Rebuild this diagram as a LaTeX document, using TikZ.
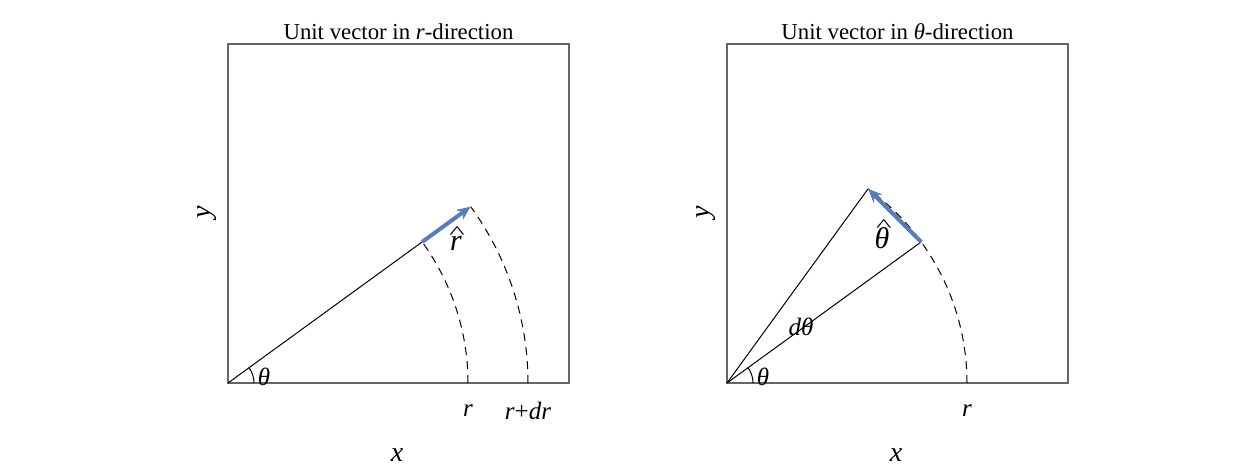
\documentclass[tikz,border=0pt]{standalone}
\usepackage{fontspec}
\setmainfont{Liberation Serif}
\usetikzlibrary{arrows.meta, calc}
\definecolor{vecblue}{RGB}{89,125,184}
\newcommand{\hatted}[3]{\ooalign{#1\cr\hidewidth\kern#2\raisebox{#3}{\upshape\scalebox{1.1}[0.6]{\char"5E}}\hidewidth\cr}}

\begin{document}
\begin{tikzpicture}[x=0.5pt, y=0.5pt,
            frame/.style={draw=black!60, line width=0.8pt},
            radial/.style={draw=black, line width=0.5pt},
            dasharc/.style={draw=black, line width=0.5pt, dash pattern=on 4pt off 3pt},
            unitvec/.style={draw=vecblue, line width=2pt, -{Stealth[length=7pt, width=6pt]}},
            ttl/.style={font=\fontsize{11.4}{13}\selectfont, inner sep=2pt, anchor=south},
            axlab/.style={font=\fontsize{14}{16}\selectfont\itshape},
            lab/.style={font=\fontsize{12.5}{14}\selectfont\itshape},
            veclab/.style={font=\fontsize{15}{17}\selectfont\itshape, anchor=base, inner sep=0pt}]

            \useasboundingbox (0,0) rectangle (1238,467);

            % left panel
            \coordinate (O1) at (228,84);
            \coordinate (R1) at ($(O1)+(36:240)$);
            \coordinate (R1b) at ($(O1)+(36:300)$);
            \draw[frame] (O1) rectangle (569,423);
            \node[ttl] (T1) at (398.5,423) {Unit vector in \textit{r}-direction};
            \draw[radial] (O1) -- (R1);
            \draw[dasharc] ($(O1)+(240,0)$) arc[start angle=0, end angle=36, radius=240];
            \draw[dasharc] ($(O1)+(300,0)$) arc[start angle=0, end angle=36, radius=300];
            \draw[radial] ($(O1)+(26,0)$) arc[start angle=0, end angle=36, radius=26];
            \draw[unitvec] (R1) -- (R1b);
            \node[lab] (th1) at (264,90) {θ};
            \node[veclab] (rhat) at (456,217) {\hatted{r}{0.08em}{0.4em}};
            \node[lab] (r1) at (468,56) {r};
            \node[lab] (rdr) at (528,56) {r\textup{+}dr};
            \node[axlab] (x1) at (397,12) {x};
            \node[axlab, rotate=90] (y1) at (207,255) {y};

            % right panel
            \coordinate (O2) at (727,84);
            \coordinate (P2) at ($(O2)+(36:240)$);
            \coordinate (Q2) at ($(O2)+(54:240)$);
            \draw[frame] (O2) rectangle (1068,423);
            \node[ttl] (T2) at (897.5,423) {Unit vector in \textit{θ}-direction};
            \draw[radial] (O2) -- (P2);
            \draw[radial] (O2) -- (Q2);
            \draw[dasharc] ($(O2)+(240,0)$) arc[start angle=0, end angle=54, radius=240];
            \draw[radial] ($(O2)+(26,0)$) arc[start angle=0, end angle=36, radius=26];
            \draw[unitvec] (P2) -- (Q2);
            \node[lab] (th2) at (763,90) {θ};
            \node[lab] (dth) at (801,140) {dθ};
            \node[veclab] (thhat) at (882,219) {\hatted{θ}{0.12em}{0.55em}};
            \node[lab] (r2) at (967,56) {r};
            \node[axlab] (x2) at (896,12) {x};
            \node[axlab, rotate=90] (y2) at (706,255) {y};
        \end{tikzpicture}
\end{document}
